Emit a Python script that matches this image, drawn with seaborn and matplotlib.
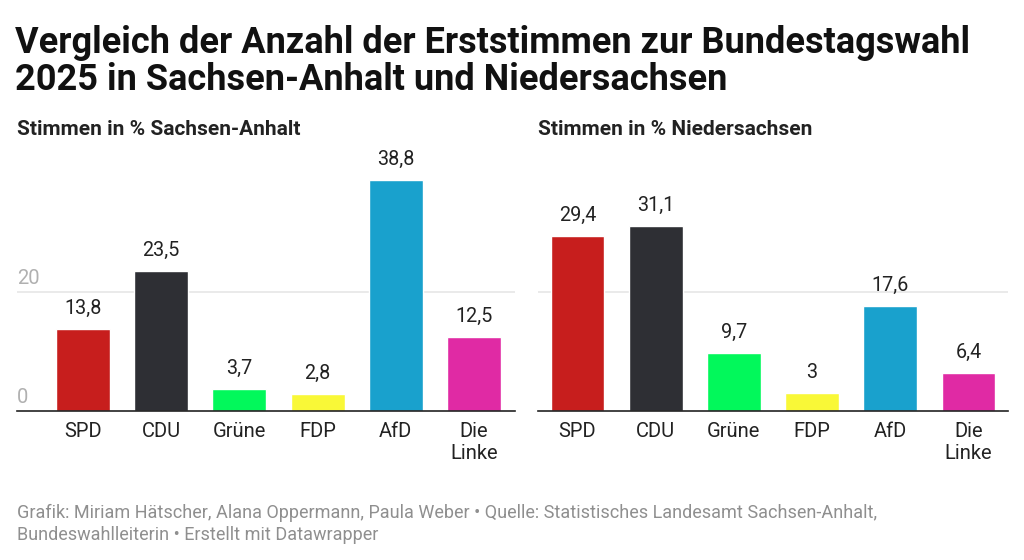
import pandas as pd
import seaborn as sns
import matplotlib.pyplot as plt

# Daten
parteien = ['SPD', 'CDU', 'Grüne', 'FDP', 'AfD', 'Die\nLinke']
sachsen_anhalt = [13.8, 23.5, 3.7, 2.8, 38.8, 12.5]
niedersachsen = [29.4, 31.1, 9.7, 3.0, 17.6, 6.4]
farben = ['#c71e1d', '#2e2f34', '#02f85b', '#f9f837', '#19a1cd', '#e02aa4']
y_ticks = [0, 20]

titel = ['Vergleich der Anzahl der Erststimmen zur Bundestagswahl',
         '2025 in Sachsen-Anhalt und Niedersachsen']
untertitel = ['Stimmen in % Sachsen-Anhalt', 'Stimmen in % Niedersachsen']
fussnote = ['Grafik: Miriam Hätscher, Alana Oppermann, Paula Weber • Quelle: Statistisches Landesamt Sachsen-Anhalt,',
            'Bundeswahlleiterin • Erstellt mit Datawrapper']

sns.set_theme(style='white')
plt.rcParams['font.family'] = ['Roboto', 'DejaVu Sans']

W, H = 1024, 560
fig = plt.figure(figsize=(W / 100, H / 100), dpi=100)

# Achsenpositionen in Pixeln: links, rechts, xlim
panels = [
    (17, 515, (-0.844, 5.524), sachsen_anhalt),
    (538, 1008, (-0.505, 5.505), niedersachsen),
]
baseline_px = 411
px_per_unit = 5.95
ymax = 40

for i, (x0, x1, xlim, werte) in enumerate(panels):
    height_px = ymax * px_per_unit
    ax = fig.add_axes([x0 / W, (H - baseline_px) / H, (x1 - x0) / W, height_px / H])
    df = pd.DataFrame({'Partei': parteien, 'Wert': werte})
    sns.barplot(data=df, x='Partei', y='Wert', hue='Partei', palette=farben,
                legend=False, width=0.69, ax=ax, saturation=1)
    ax.set_xlim(*xlim)
    ax.set_ylim(0, ymax)
    for s in ['top', 'right', 'left']:
        ax.spines[s].set_visible(False)
    ax.spines['bottom'].set_color('#222222')
    ax.spines['bottom'].set_linewidth(1.2)
    ax.set_yticks([])
    ax.set_xlabel('')
    ax.set_ylabel('')
    ax.tick_params(axis='x', length=0, pad=8, labelsize=14.5, labelcolor='#222222')
    ax.axhline(20, color='#e6e6e6', lw=1.2, zorder=0)

    for cont in ax.containers:
        labels = [f'{v:g}'.replace('.', ',') for v in cont.datavalues]
        ax.bar_label(cont, labels=labels, padding=8, fontsize=14.2, color='#222222')

    if i == 0:
        for t in y_ticks:
            ax.annotate(str(t), xy=(xlim[0], t), xytext=(0, 3), textcoords='offset points',
                        ha='left', va='bottom', fontsize=14.5, color='#b0b0b0')

    fig.text(x0 / W, 1 - 135 / H, untertitel[i], fontsize=15, fontweight='bold',
             color='#222222', va='baseline', ha='left')

for zeile, y in zip(titel, [53, 90]):
    fig.text(15 / W, 1 - y / H, zeile, fontsize=26, fontweight='bold', color='#111111',
             va='baseline', ha='left')
for zeile, y in zip(fussnote, [518, 540]):
    fig.text(17 / W, 1 - y / H, zeile, fontsize=13, color='#8f8f8f',
             va='baseline', ha='left')

fig.savefig('out.png', dpi=100)
